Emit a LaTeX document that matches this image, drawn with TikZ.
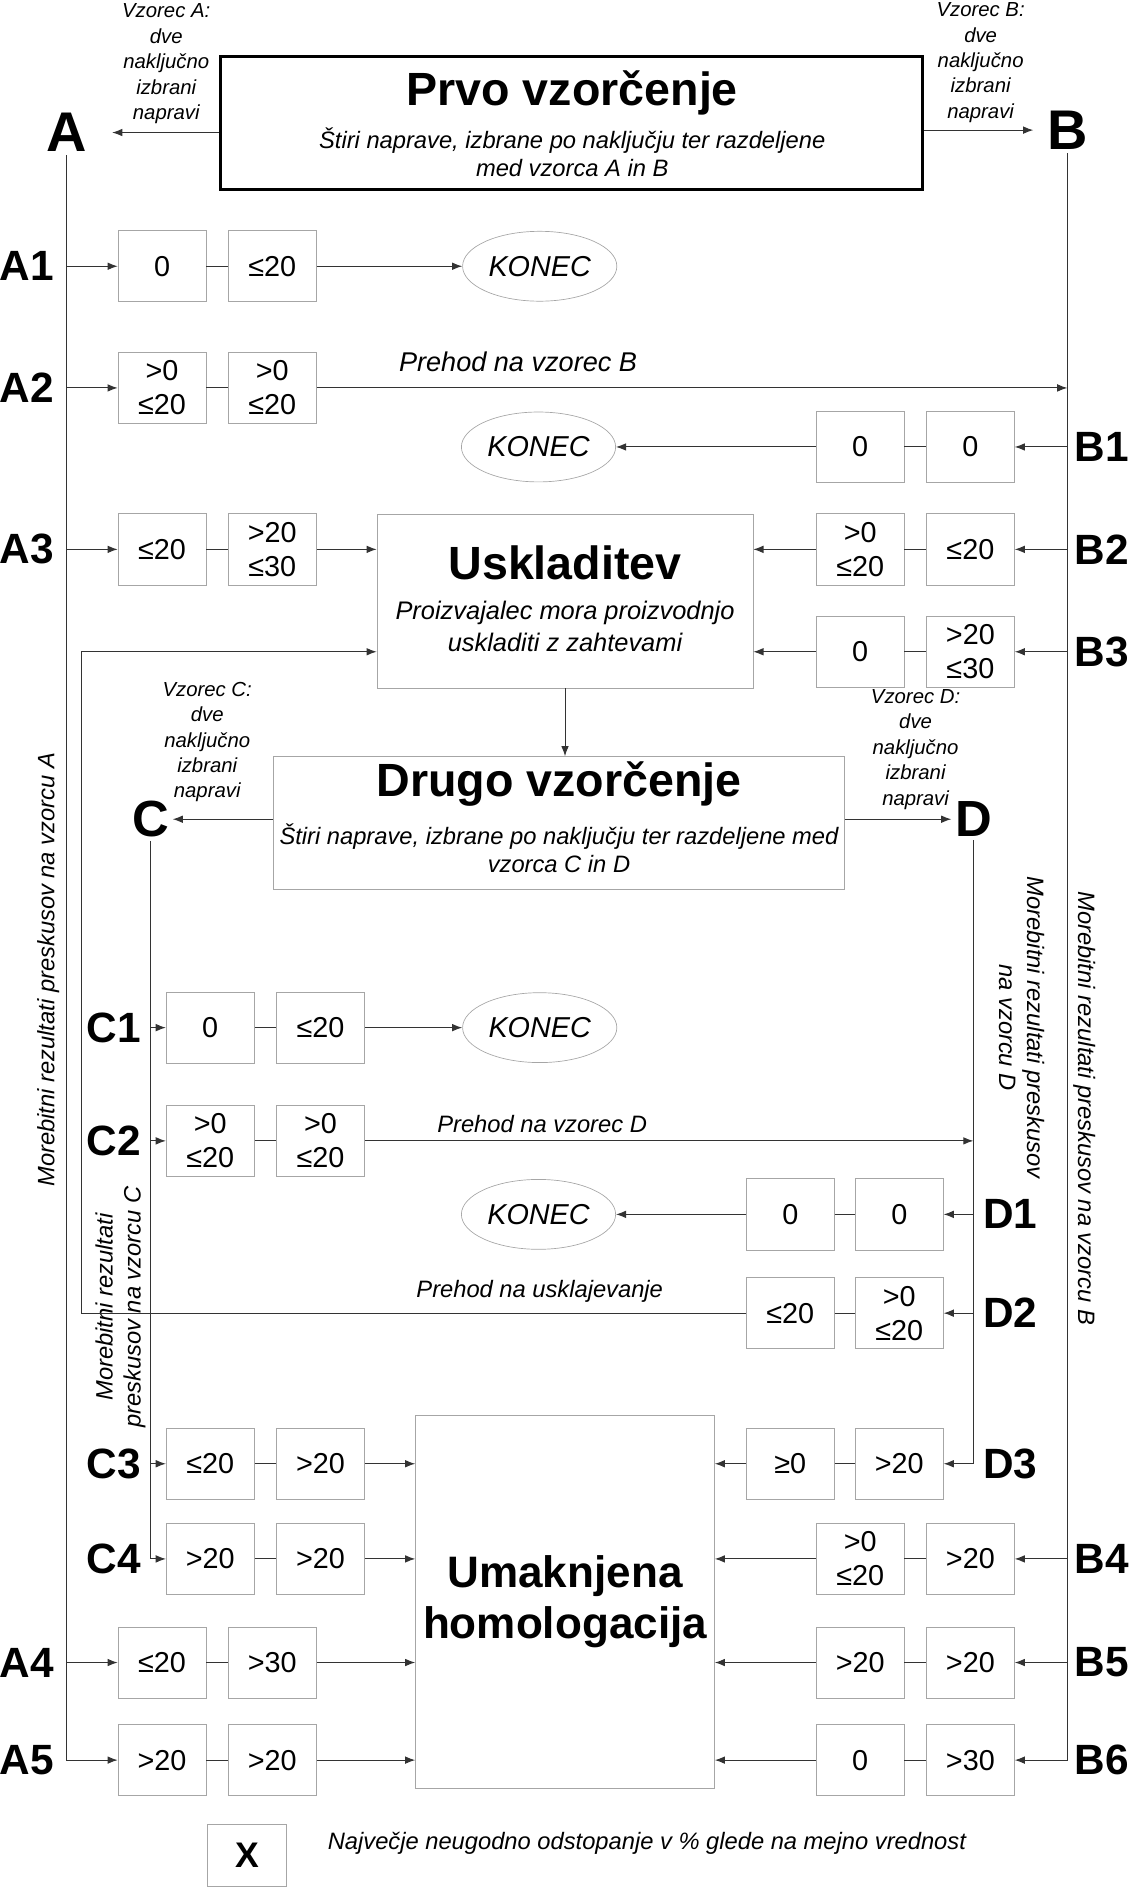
\documentclass[tikz,border=0pt]{standalone}
\usepackage{fontspec}
\setmainfont{Liberation Sans}
\usetikzlibrary{shapes.geometric,arrows.meta}

\begin{document}
\begin{tikzpicture}[x=0.025cm,y=-0.025cm,>={Latex[length=6pt,width=4.5pt]},
  val/.style={draw=gray!70,minimum width=1.825cm,minimum height=1.475cm,inner sep=0pt,align=center,font=\fontsize{17}{20}\selectfont},
  konec/.style={ellipse,draw=gray!70,minimum width=3.2cm,minimum height=1.45cm,inner sep=0pt,font=\fontsize{17}{20}\selectfont\itshape},
  rowkey/.style={inner sep=0pt,font=\fontsize{25}{28}\selectfont\bfseries},
  smpl/.style={inner sep=2pt,font=\fontsize{33}{36}\selectfont\bfseries},
  smplb/.style={inner sep=2pt,font=\fontsize{30}{33}\selectfont\bfseries},
  note/.style={align=center,font=\fontsize{12}{15}\selectfont\itshape},
  head/.style={align=center,font=\fontsize{27.5}{31}\selectfont\bfseries},
  sub/.style={align=center,font=\fontsize{14}{16.5}\selectfont\itshape},
  lbl/.style={font=\fontsize{16}{19}\selectfont\itshape},
  stage/.style={draw=gray!70,inner sep=0pt},
  flow/.style={draw=black!80,line width=0.6pt}]
\useasboundingbox (0,0) rectangle (939,1568);

\node[stage,draw=black,line width=1.8pt,minimum width=14.575cm,minimum height=2.75cm] (prvo) at (474.5,102) {};
\node[head] (prvoT) at (475,77) {Prvo vzorčenje};
\node[sub] (prvoS) at (475,126) {Štiri naprave, izbrane po naključju ter razdeljene\\med vzorca A in B};
\node[stage,minimum width=7.8cm,minimum height=3.6cm] (usk) at (469,499) {};
\node[head] (uskT) at (469,467) {Uskladitev};
\node[sub,font=\fontsize{15}{18.5}\selectfont\itshape] (uskS) at (469,520) {Proizvajalec mora proizvodnjo\\uskladiti z zahtevami};
\node[stage,minimum width=11.85cm,minimum height=2.75cm] (drugo) at (464,683) {};
\node[head] (drugoT) at (464,651) {Drugo vzorčenje};
\node[sub] (drugoS) at (464,704) {Štiri naprave, izbrane po naključju ter razdeljene med\\vzorca C in D};
\node[stage,head,font=\fontsize{26}{30.5}\selectfont\bfseries,minimum width=6.2cm,minimum height=7.725cm] (umk) at (469,1329.5) {Umaknjena\\homologacija};

\node[smpl] (A) at (55,110) {A};
\node[smpl] (B) at (886,108) {B};
\node[smplb] (C) at (125,680) {C};
\node[smplb] (D) at (808,680) {D};
\node[note] (nA) at (138,53) {Vzorec A:\\dve\\naključno\\izbrani\\napravi};
\node[note] (nB) at (814,52) {Vzorec B:\\dve\\naključno\\izbrani\\napravi};
\node[note] (nC) at (172,616) {Vzorec C:\\dve\\naključno\\izbrani\\napravi};
\node[note] (nD) at (760,622) {Vzorec D:\\dve\\naključno\\izbrani\\napravi};

\node[rowkey,anchor=east] (kA1) at (45,221) {A1};
\node[rowkey,anchor=east] (kA2) at (45,322) {A2};
\node[rowkey,anchor=east] (kA3) at (45,456) {A3};
\node[rowkey,anchor=east] (kA4) at (45,1380) {A4};
\node[rowkey,anchor=east] (kA5) at (45,1461) {A5};
\node[rowkey,anchor=west] (kB1) at (892,371) {B1};
\node[rowkey,anchor=west] (kB2) at (892,456) {B2};
\node[rowkey,anchor=west] (kB3) at (892,541) {B3};
\node[rowkey,anchor=west] (kB4) at (892,1294) {B4};
\node[rowkey,anchor=west] (kB5) at (892,1380) {B5};
\node[rowkey,anchor=west] (kB6) at (892,1461) {B6};
\node[rowkey,anchor=east] (kC1) at (117,853) {C1};
\node[rowkey,anchor=east] (kC2) at (117,947) {C2};
\node[rowkey,anchor=east] (kC3) at (117,1215) {C3};
\node[rowkey,anchor=east] (kC4) at (117,1294) {C4};
\node[rowkey,anchor=west] (kD1) at (816,1008) {D1};
\node[rowkey,anchor=west] (kD2) at (816,1090) {D2};
\node[rowkey,anchor=west] (kD3) at (816,1215) {D3};

\node[val] (a11) at (134.5,221) {0};
\node[val] (a12) at (226,221) {≤20};
\node[val] (a21) at (134.5,322) {>0\\≤20};
\node[val] (a22) at (226,322) {>0\\≤20};
\node[val] (a31) at (134.5,456) {≤20};
\node[val] (a32) at (226,456) {>20\\≤30};
\node[val] (a41) at (134.5,1380) {≤20};
\node[val] (a42) at (226,1380) {>30};
\node[val] (a51) at (134.5,1461) {>20};
\node[val] (a52) at (226,1461) {>20};

\node[val] (b11) at (714,371) {0};
\node[val] (b12) at (805.5,371) {0};
\node[val] (b21) at (714,456) {>0\\≤20};
\node[val] (b22) at (805.5,456) {≤20};
\node[val] (b31) at (714,541) {0};
\node[val] (b32) at (805.5,541) {>20\\≤30};
\node[val] (b41) at (714,1294) {>0\\≤20};
\node[val] (b42) at (805.5,1294) {>20};
\node[val] (b51) at (714,1380) {>20};
\node[val] (b52) at (805.5,1380) {>20};
\node[val] (b61) at (714,1461) {0};
\node[val] (b62) at (805.5,1461) {>30};

\node[val] (c11) at (174.5,853) {0};
\node[val] (c12) at (266,853) {≤20};
\node[val] (c21) at (174.5,947) {>0\\≤20};
\node[val] (c22) at (266,947) {>0\\≤20};
\node[val] (c31) at (174.5,1215) {≤20};
\node[val] (c32) at (266,1215) {>20};
\node[val] (c41) at (174.5,1294) {>20};
\node[val] (c42) at (266,1294) {>20};

\node[val] (d11) at (656,1008) {0};
\node[val] (d12) at (746.5,1008) {0};
\node[val] (d21) at (656,1090) {≤20};
\node[val] (d22) at (746.5,1090) {>0\\≤20};
\node[val] (d31) at (656,1215) {≥0};
\node[val] (d32) at (746.5,1215) {>20};

\node[konec] (konA1) at (448,221) {KONEC};
\node[konec] (konB1) at (447,371) {KONEC};
\node[konec] (konC1) at (448,853) {KONEC};
\node[konec] (konD1) at (447,1008) {KONEC};

\node[lbl] (toB) at (430,300) {Prehod na vzorec B};
\node[sub] (toD) at (450,933) {Prehod na vzorec D};
\node[sub] (toU) at (448,1072) {Prehod na usklajevanje};
\node[sub,rotate=90] (mA) at (40,805) {Morebitni rezultati preskusov na vzorcu A};
\node[sub,rotate=90] (mC) at (100,1085) {Morebitni rezultati\\preskusov na vzorcu C};
\node[sub,rotate=-90] (mD) at (848,853) {Morebitni rezultati preskusov\\na vzorcu D};
\node[sub,rotate=-90] (mB) at (900,920) {Morebitni rezultati preskusov na vzorcu B};

\node[stage,minimum width=1.65cm,minimum height=1.3cm,font=\fontsize{21}{24}\selectfont\bfseries] (xkey) at (205,1540) {X};
\node[sub] (xtext) at (537,1530) {Največje neugodno odstopanje v \% glede na mejno vrednost};

\coordinate (turn) at (68,541);

\draw[flow,->,shorten >=13pt] (prvo.west |- A) -- (A);
\draw[flow,->,shorten >=6pt] (prvo.east |- B) -- (B);
\draw[flow,->] (drugo.west |- C) -- (C);
\draw[flow,->] (drugo.east |- D) -- (D);
\draw[flow,->] (usk) -- (usk |- drugo.north);

\draw[flow,->] (A) |- (a51);
\foreach \r in {1,...,4} \draw[flow,->] (A |- a\r1) -- (a\r1);
\foreach \r in {1,...,5} \draw[flow] (a\r1) -- (a\r2);
\draw[flow,->] (a12) -- (konA1);
\draw[flow,->] (a22) -- (B |- a22);
\draw[flow,->] (a32) -- (usk.west |- a32);
\draw[flow,->] (a42) -- (umk.west |- a42);
\draw[flow,->] (a52) -- (umk.west |- a52);

\draw[flow,->] (B) |- (b62);
\foreach \r in {1,...,5} \draw[flow,->] (B |- b\r2) -- (b\r2);
\foreach \r in {1,...,6} \draw[flow] (b\r1) -- (b\r2);
\draw[flow,->] (b11) -- (konB1);
\draw[flow,->] (b21) -- (usk.east |- b21);
\draw[flow,->] (b31) -- (usk.east |- b31);
\draw[flow,->] (b41) -- (umk.east |- b41);
\draw[flow,->] (b51) -- (umk.east |- b51);
\draw[flow,->] (b61) -- (umk.east |- b61);

\draw[flow,->] (C) |- (c41);
\foreach \r in {1,...,3} \draw[flow,->] (C |- c\r1) -- (c\r1);
\foreach \r in {1,...,4} \draw[flow] (c\r1) -- (c\r2);
\draw[flow,->] (c12) -- (konC1);
\draw[flow,->] (c22) -- (D |- c22);
\draw[flow,->] (c32) -- (umk.west |- c32);
\draw[flow,->] (c42) -- (umk.west |- c42);

\draw[flow,->] (D) |- (d32);
\foreach \r in {1,2} \draw[flow,->] (D |- d\r2) -- (d\r2);
\foreach \r in {1,...,3} \draw[flow] (d\r1) -- (d\r2);
\draw[flow,->] (d11) -- (konD1);
\draw[flow,->] (d21) -| (turn) -- (usk.west |- turn);
\draw[flow,->] (d31) -- (umk.east |- d31);
\end{tikzpicture}
\end{document}
